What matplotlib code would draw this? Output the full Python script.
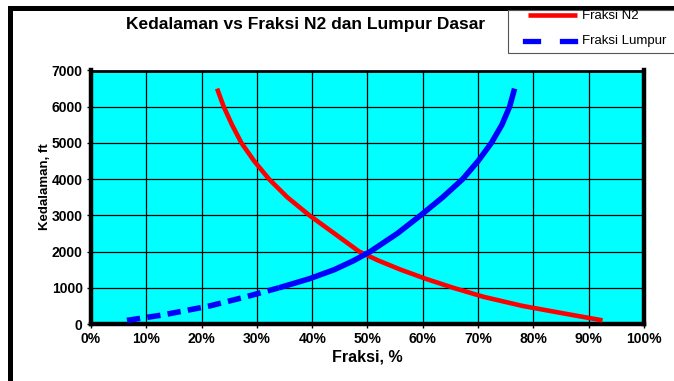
import matplotlib
matplotlib.use('Agg')
import matplotlib.pyplot as plt
from matplotlib.lines import Line2D
from matplotlib.patches import Rectangle
from matplotlib.ticker import FuncFormatter

plt.rcParams['font.family'] = ['Liberation Sans', 'DejaVu Sans']

# depth (ft) and fractions (%)
depth_n2 = [100, 250, 500, 750, 1000, 1250, 1500, 1750, 2000, 2500, 3000, 3500, 4000, 4500, 5000, 5500, 6000, 6500]
fraksi_n2 = [92.5, 87.0, 78.0, 71.0, 65.5, 60.5, 56.0, 52.0, 48.5, 44.0, 39.5, 35.5, 32.2, 29.5, 27.2, 25.5, 24.0, 22.8]
depth_lumpur = [100, 250, 500, 750, 1000, 1250, 1500, 1750, 2000, 2500, 3000, 3500, 4000, 4500, 5000, 5500, 6000, 6500]
fraksi_lumpur = [6.5, 13.0, 21.5, 28.0, 34.0, 39.5, 44.0, 47.5, 50.5, 55.4, 59.6, 63.6, 67.2, 70.0, 72.4, 74.3, 75.7, 76.6]
x_ticks = [0, 10, 20, 30, 40, 50, 60, 70, 80, 90, 100]
y_ticks = [0, 1000, 2000, 3000, 4000, 5000, 6000, 7000]

W, H = 674, 381
fig = plt.figure(figsize=(W / 100, H / 100), dpi=100)
fig.patch.set_facecolor('white')

def fx(px):
    return px / W

def fy(py):
    return 1 - py / H

ax = fig.add_axes([fx(91), fy(324), fx(644) - fx(91), fy(70.5) - fy(324)])
ax.set_facecolor('#00FFFF')

red_style = dict(color='#FF0000', lw=3.3, solid_capstyle='butt')

ax.plot(fraksi_n2, depth_n2, **red_style, zorder=3)
# excel restarts the dash on every short segment, so the dense upper part looks solid
k = 5
ax.plot(fraksi_lumpur[:k], depth_lumpur[:k], color='#0000FF', lw=4.0,
        linestyle=(0, (2.4, 1.3)), zorder=4)
ax.plot(fraksi_lumpur[k - 1:], depth_lumpur[k - 1:], color='#0000FF', lw=4.0,
        solid_capstyle='butt', zorder=4)

ax.set_xlim(0, 100)
ax.set_ylim(0, 7000)
ax.set_xticks(x_ticks)
ax.set_yticks(y_ticks)
ax.xaxis.set_major_formatter(FuncFormatter(lambda v, p: '%d%%' % v))
ax.grid(True, color='black', lw=0.9, zorder=1)
ax.set_axisbelow(True)
ax.tick_params(direction='out', length=3, width=1, labelsize=10, pad=3)
for lab in ax.get_xticklabels() + ax.get_yticklabels():
    lab.set_fontweight('bold')
for side in ['left', 'bottom', 'right']:
    ax.spines[side].set_linewidth(3.2)
ax.spines['top'].set_linewidth(2.0)

ax.set_xlabel('Fraksi, %', fontsize=11.5, fontweight='bold', labelpad=2)
fig.text(fx(45), fy(187), 'Kedalaman, ft', rotation=90, fontsize=9.5, fontweight='bold',
         ha='center', va='center')
fig.text(fx(306), fy(24), 'Kedalaman vs Fraksi N2 dan Lumpur Dasar', fontsize=12.5,
         fontweight='bold', ha='center', va='center')

# chart area border (cut off at right and bottom)
fig.add_artist(Rectangle((fx(9.5), fy(400)), fx(700) - fx(9.5), fy(8) - fy(400),
                         fill=False, edgecolor='black', lw=3.6, transform=fig.transFigure))

# legend box (also cut off at the right)
fig.add_artist(Rectangle((fx(508), fy(53)), fx(720) - fx(508), fy(10) - fy(53),
                         facecolor='white', edgecolor='#555555', lw=0.8, transform=fig.transFigure, zorder=5))
fig.add_artist(Line2D([fx(528), fx(577)], [fy(15), fy(15)], transform=fig.transFigure, zorder=6, **red_style))
fig.add_artist(Line2D([fx(525), fx(538)], [fy(40.5), fy(40.5)], transform=fig.transFigure, zorder=6,
                      color='#0000FF', lw=3.8))
fig.add_artist(Line2D([fx(562), fx(575)], [fy(40.5), fy(40.5)], transform=fig.transFigure, zorder=6,
                      color='#0000FF', lw=3.8))
fig.text(fx(582), fy(16), 'Fraksi N2', fontsize=9.5, ha='left', va='center', zorder=7)
fig.text(fx(582), fy(41), 'Fraksi Lumpur', fontsize=9.5, ha='left', va='center', zorder=7)

fig.savefig('out.png', dpi=100)
